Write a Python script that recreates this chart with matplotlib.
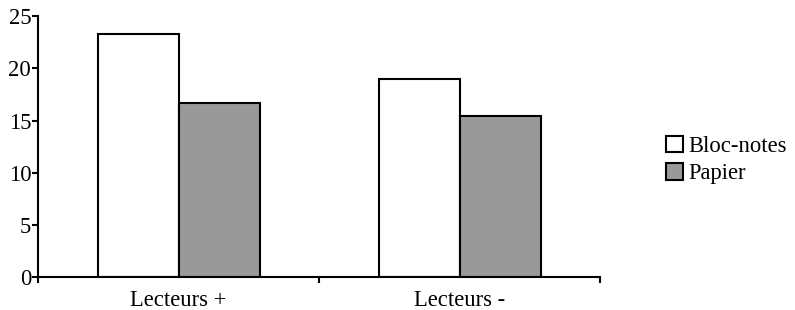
import matplotlib.pyplot as plt
import matplotlib.patches as mpatches
import numpy as np

plt.rcParams['font.family'] = ['Liberation Serif', 'DejaVu Serif']

categories = ['Lecteurs +', 'Lecteurs -']
series_names = ['Bloc-notes', 'Papier']
bloc_notes = [23.3, 19.0]
papier = [16.7, 15.4]
colors = ['white', '#999999']

fig = plt.figure(figsize=(7.95, 3.10), dpi=100)
ax = fig.add_axes([0.048, 0.106, 0.707, 0.842])

ind = np.arange(len(categories))
w = 0.288
ax.bar(ind - w / 2, bloc_notes, width=w, color=colors[0], edgecolor='black', linewidth=1.5)
ax.bar(ind + w / 2, papier, width=w, color=colors[1], edgecolor='black', linewidth=1.5)

ax.set_xlim(-0.5, 1.5)
ax.set_ylim(0, 25)
ax.set_yticks([0, 5, 10, 15, 20, 25])
ax.set_xticks([-0.5, 0.5, 1.5])
ax.set_xticklabels([])
ax.set_xticks(ind, minor=True)
ax.set_xticklabels(categories, minor=True)
ax.tick_params(axis='x', which='minor', length=0, pad=9, labelsize=16.3)
ax.tick_params(axis='x', which='major', length=4, width=1.5)
ax.tick_params(axis='y', length=4, width=1.5, pad=1, labelsize=16.3)
for s in ['top', 'right']:
    ax.spines[s].set_visible(False)
for s in ['left', 'bottom']:
    ax.spines[s].set_linewidth(1.5)

handles = [mpatches.Patch(facecolor=c, edgecolor='black', linewidth=1.5) for c in colors]
fig.legend(handles, series_names, loc='center left', bbox_to_anchor=(0.838, 0.484),
           frameon=False, fontsize=16.3, handlelength=0.72, handleheight=0.72,
           handletextpad=0.25, labelspacing=0.3, borderpad=0, borderaxespad=0)

fig.savefig('out.png', dpi=100)
